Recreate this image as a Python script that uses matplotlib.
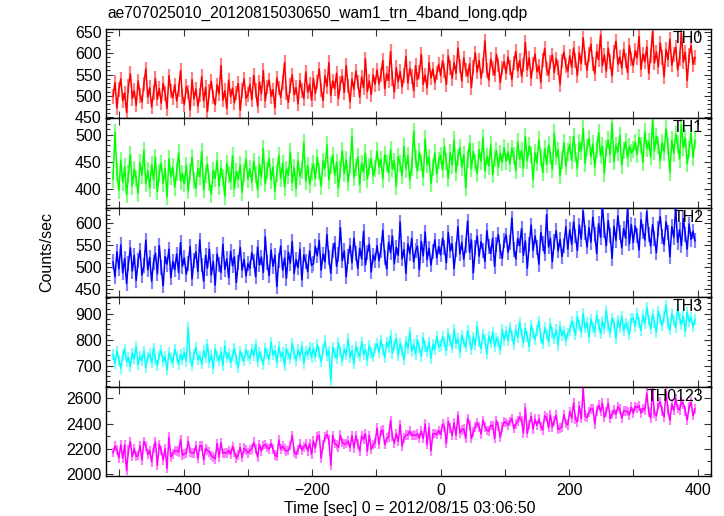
import numpy as np
import matplotlib
matplotlib.use("Agg")
import matplotlib.pyplot as plt
from matplotlib.ticker import MultipleLocator

plt.rcParams['font.family'] = ['Liberation Sans', 'DejaVu Sans']

title = "ae707025010_20120815030650_wam1_trn_4band_long.qdp"
xlabel = "Time [sec] 0 = 2012/08/15 03:06:50"
ylabel = "Counts/sec"
band_names = ["TH0", "TH1", "TH2", "TH3", "TH0123"]
band_colors = ["#ff0000", "#00ff00", "#0000ff", "#00ffff", "#ff00ff"]
band_errors = [17, 16, 17, 21, 38]

t_start = -510.0
bin_size = 3.0

th0 = [
    498, 531, 472, 515, 540, 489, 507, 461, 523, 552, 494, 512, 478, 535, 501, 486, 528, 563, 497, 519,
    474, 508, 541, 492, 517, 483, 529, 506, 470, 547, 511, 495, 526, 488, 514, 559, 499,
    480, 522, 509, 467, 538, 493, 516, 476, 502, 545, 488, 520, 463, 511, 534, 497, 479, 526, 505, 571,
    490, 512, 471, 537, 498, 518, 484, 507, 529, 466, 513, 540, 494, 503,
    527, 491, 548, 512, 476, 533, 505, 559, 488, 521, 537, 499, 514, 472, 542, 518, 496, 531, 578, 507,
    485, 524, 549, 503, 519, 481, 536, 512, 494, 556, 509, 527, 490,
    541, 506, 532, 563, 514, 489, 547, 522, 578, 501, 535, 517, 553, 494, 529, 546, 508, 571, 523, 486,
    539, 515, 558, 532, 497, 544, 519, 587, 510, 535, 503, 549, 527,
    561, 528, 549, 583, 517, 552, 536, 604, 541, 509, 566, 533, 557, 521, 548, 592, 530, 564, 545, 512,
    571, 538, 556, 597, 527, 549, 519, 578, 542, 563, 531, 553, 574,
    548, 582, 559, 527, 594, 566, 541, 578, 553, 612, 570, 535, 589, 561, 547, 575, 520, 568, 601, 556,
    583, 542, 571, 629, 559, 537, 586, 564, 549, 597, 572, 531, 565, 580,
    553, 591, 566, 538, 577, 604, 559, 583, 546, 572, 625, 561, 589, 541, 575, 598, 557, 570, 532, 584,
    611, 563, 549, 579, 596, 555, 587, 566, 527, 582, 603, 571, 558,
    594, 567, 612, 583, 548, 601, 576, 636, 589, 560, 597, 621, 575, 552, 604, 585, 643, 571, 596, 558,
    612, 580, 547, 603, 628, 574, 591, 565, 609, 583, 555, 618, 586,
    571, 606, 589, 639, 562, 598, 580, 615, 553, 594, 651, 577, 603, 568, 624, 590, 545, 609, 585, 633,
    572, 597, 614, 561, 588, 647, 579, 602, 536, 595, 618, 574, 590,
]

th1 = [
    418, 504, 431, 397, 452, 412, 440, 389, 427, 463, 405, 436, 419, 392, 448, 425, 471, 409, 433, 401,
    444, 416, 458, 394, 429, 447, 410, 437, 385, 455, 422, 440, 403, 431, 466, 414, 428,
    409, 443, 396, 430, 458, 415, 401, 437, 422, 469, 398, 427, 445, 411, 390, 434, 419, 452, 405, 438,
    421, 386, 447, 426, 413, 461, 400, 432, 417, 444, 393, 429, 455, 418,
    437, 412, 451, 426, 398, 445, 421, 474, 409, 433, 456, 416, 440, 395, 428, 462, 419, 447, 403, 436,
    425, 468, 411, 439, 400, 452, 423, 434, 485, 414, 443, 408, 431,
    446, 419, 458, 432, 405, 451, 438, 481, 416, 443, 462, 425, 449, 401, 436, 470, 428, 453, 412, 444,
    497, 421, 439, 459, 407, 447, 431, 466, 418, 441, 455, 424, 437,
    470, 441, 454, 418, 463, 446, 429, 472, 437, 451, 405, 459, 447, 424, 478, 436, 461, 416, 440, 506,
    455, 433, 468, 449, 421, 492, 445, 458, 410, 439, 466, 427, 452,
    462, 435, 478, 450, 419, 467, 444, 490, 431, 458, 476, 440, 463, 402, 455, 484, 437, 469, 448, 428,
    472, 451, 495, 433, 460, 442, 481, 426, 457, 470, 439, 465, 449, 476,
    451, 468, 446, 475, 461, 433, 487, 455, 470, 438, 496, 452, 479, 463, 417, 466, 448, 490, 458, 430,
    474, 445, 481, 462, 436, 503, 459, 471, 424, 453, 485, 441, 468,
    481, 452, 497, 466, 438, 485, 470, 512, 447, 476, 493, 459, 483, 440, 472, 504, 461, 479, 429, 474,
    490, 463, 521, 450, 480, 468, 499, 444, 471, 487, 457, 478, 466,
    472, 486, 463, 495, 480, 449, 505, 474, 487, 459, 527, 470, 497, 481, 452, 485, 468, 511, 479, 430,
    490, 466, 501, 483, 455, 518, 476, 494, 446, 472, 503, 458, 489,
]

th2 = [
    512, 478, 535, 496, 551, 487, 520, 463, 509, 544, 491, 527, 470, 515, 538, 482, 503, 561, 494, 522,
    468, 511, 532, 485, 549, 499, 458, 524, 507, 541, 476, 513, 494, 530, 488, 556, 502,
    521, 484, 509, 547, 473, 516, 535, 490, 562, 505, 468, 527, 498, 541, 482, 513, 459, 530, 507, 488,
    552, 495, 519, 476, 536, 503, 524, 465, 511, 545, 493, 518, 480, 508,
    497, 533, 514, 478, 546, 505, 523, 488, 569, 510, 481, 539, 502, 527, 456, 516, 548, 493, 521, 475,
    534, 509, 558, 486, 517, 499, 541, 471, 528, 512, 490, 537, 504,
    508, 547, 526, 561, 493, 530, 512, 574, 521, 486, 539, 555, 502, 528, 590, 515, 537, 478, 524, 549,
    510, 566, 531, 497, 543, 519, 582, 505, 534, 552, 489, 527, 516,
    549, 515, 538, 584, 522, 496, 557, 533, 571, 508, 545, 527, 603, 519, 540, 486, 553, 531, 566, 512,
    537, 548, 494, 559, 526, 580, 517, 543, 505, 535, 562, 521, 547,
    528, 566, 545, 510, 579, 537, 553, 497, 541, 592, 530, 556, 518, 549, 605, 534, 562, 487, 544, 571,
    525, 558, 539, 513, 583, 547, 531, 566, 502, 551, 574, 536, 520, 560,
    573, 534, 556, 612, 541, 519, 565, 549, 588, 527, 560, 498, 552, 596, 538, 571, 545, 507, 579, 553,
    531, 620, 546, 566, 512, 558, 583, 537, 563, 524, 550, 592, 541,
    585, 552, 603, 571, 538, 596, 564, 628, 579, 546, 590, 557, 614, 575, 531, 599, 568, 641, 583, 549,
    606, 572, 520, 593, 561, 617, 578, 544, 588, 566, 632, 553, 597,
    556, 594, 572, 539, 608, 581, 562, 627, 575, 548, 597, 566, 533, 589, 615, 570, 551, 603, 579, 524,
    592, 568, 636, 557, 585, 549, 611, 574, 541, 598, 563, 582, 560,
]

th3 = [
    742, 708, 755, 721, 689, 738, 764, 715, 731, 697, 748, 726, 772, 704, 737, 719, 756, 692, 733, 745,
    711, 768, 725, 700, 741, 759, 716, 734, 683, 749, 728, 712, 763, 736, 705, 744, 722,
    751, 717, 846, 732, 698, 744, 770, 722, 737, 706, 758, 729, 781, 713, 741, 690, 764, 735, 719, 752,
    701, 776, 730, 747, 711, 738, 767, 724, 694, 756, 733, 718, 761, 739,
    728, 763, 739, 781, 716, 752, 734, 705, 768, 746, 724, 790, 741, 757, 712, 773, 735, 750, 698, 764,
    743, 726, 786, 748, 719, 761, 737, 774, 709, 755, 742, 771, 731,
    767, 734, 782, 749, 715, 760, 796, 738, 756, 642, 771, 745, 727, 788, 753, 719, 764, 741, 803, 732,
    758, 706, 775, 750, 736, 791, 744, 762, 721, 779, 748, 733, 768,
    784, 752, 799, 763, 731, 790, 771, 815, 748, 777, 805, 740, 786, 758, 722, 794, 767, 829, 755, 781,
    744, 799, 769, 736, 808, 775, 753, 791, 728, 783, 762, 812, 772,
    776, 812, 791, 758, 825, 797, 769, 840, 784, 803, 751, 818, 789, 772, 834, 796, 763, 810, 781, 852,
    793, 766, 821, 800, 745, 814, 787, 829, 774, 806, 792, 760, 838, 798,
    831, 796, 848, 817, 782, 839, 808, 866, 822, 789, 843, 812, 774, 857, 826, 800, 835, 871, 809, 784,
    846, 820, 792, 861, 828, 803, 838, 779, 851, 816, 833, 797, 824,
    836, 872, 851, 818, 889, 857, 829, 901, 845, 866, 810, 879, 848, 831, 894, 859, 823, 870, 842, 912,
    853, 826, 884, 861, 805, 875, 847, 890, 834, 864, 851, 820, 881,
    884, 851, 902, 868, 835, 893, 861, 925, 876, 843, 897, 866, 829, 911, 880, 855, 889, 934, 864, 838,
    900, 873, 847, 918, 882, 858, 891, 832, 906, 871, 886, 849, 877,
]

# total band = sum of the four energy bands
th0123 = (np.array(th0) + np.array(th1) + np.array(th2) + np.array(th3)).tolist()

series = [th0, th1, th2, th3, th0123]
y_limits = [(448, 658), (365, 531), (432, 636), (619, 965), (1985, 2694)]
y_major = [50, 50, 50, 100, 200]
y_minor = [10, 10, 10, 20, 100]
x_limits = (-521, 421)


def lighten(hexcol, f=0.5):
    r, g, b = matplotlib.colors.to_rgb(hexcol)
    return (r + (1 - r) * f, g + (1 - g) * f, b + (1 - b) * f)


fig = plt.figure(figsize=(7.24, 5.16), dpi=100)
left, right = 106 / 724, 711 / 724
top, bottom = 1 - 28.5 / 516, 1 - 476 / 516
gs = fig.add_gridspec(5, 1, left=left, right=right, top=top, bottom=bottom, hspace=0)

axes = []
for i, (vals, name, col, err) in enumerate(zip(series, band_names, band_colors, band_errors)):
    ax = fig.add_subplot(gs[i, 0], sharex=axes[0] if axes else None)
    axes.append(ax)
    y = np.array(vals, dtype=float)
    t = t_start + bin_size * np.arange(len(y))
    ax.errorbar(t, y, yerr=err, fmt='none', ecolor=lighten(col, 0.5),
                elinewidth=1.6, capsize=0, zorder=2)
    ax.plot(t, y, color=col, lw=1.1, zorder=3)
    ax.set_ylim(*y_limits[i])
    ax.set_xlim(*x_limits)
    ax.yaxis.set_major_locator(MultipleLocator(y_major[i]))
    ax.yaxis.set_minor_locator(MultipleLocator(y_minor[i]))
    ax.xaxis.set_major_locator(MultipleLocator(200))
    ax.xaxis.set_minor_locator(MultipleLocator(100))
    ax.tick_params(which='both', direction='in', top=True, right=True,
                   labelsize=11.5, width=0.8, color='#333333')
    ax.tick_params(which='major', axis='y', length=5)
    ax.tick_params(which='minor', axis='y', length=3)
    ax.tick_params(which='both', axis='x', length=5)
    ax.tick_params(axis='y', pad=3)
    for sp in ax.spines.values():
        sp.set_linewidth(1.0)
        sp.set_color('black')
    ax.text(0.987, 0.975, name, transform=ax.transAxes, ha='right', va='top',
            fontsize=11.5, color='black', zorder=5)
    if i < 4:
        ax.tick_params(axis='x', labelbottom=False)

axes[-1].tick_params(axis='x', pad=5)

fig.text(107 / 724, 1 - 13 / 516, title, ha='left', va='center', fontsize=11.2)
fig.text(47 / 724, 1 - 252 / 516, ylabel, ha='center', va='center', rotation=90, fontsize=11.5)
fig.text(410 / 724, 1 - 508 / 516, xlabel, ha='center', va='center', fontsize=11.5)

fig.savefig("out.png", dpi=100)
